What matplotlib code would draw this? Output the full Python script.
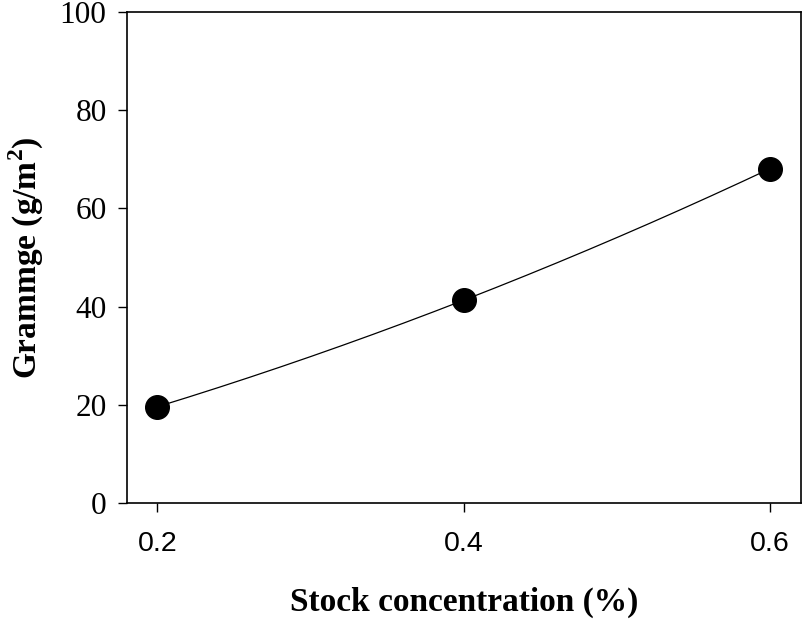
import numpy as np
import matplotlib
matplotlib.use('Agg')
import matplotlib.pyplot as plt

'''DATA'''
conc = [0.2, 0.4, 0.6]
grammage = [19.6, 41.3, 68.1]
xTicks = [0.2, 0.4, 0.6]
yTicks = [0, 20, 40, 60, 80, 100]

# fitted curve through the points
coef = np.polyfit(conc, grammage, 2)
xFit = np.linspace(conc[0], conc[-1], 200)
yFit = np.polyval(coef, xFit)

'''Plot'''
fig = plt.figure(figsize=(8.03, 6.26), dpi=100)
ax = fig.add_axes([0.1578, 0.1965, 0.9971 - 0.1578, 0.9808 - 0.1965])

ax.plot(xFit, yFit, color='black', linewidth=0.9)
ax.plot(conc, grammage, 'o', color='black', markersize=17)

ax.set_xlim(0.18, 0.62)
ax.set_ylim(0, 100)
ax.set_xticks(xTicks)
ax.set_xticklabels(['0.2', '0.4', '0.6'], fontfamily='Liberation Sans', fontsize=20.5)
ax.set_yticks(yTicks)
ax.set_yticklabels([str(v) for v in yTicks], fontfamily='Liberation Serif', fontsize=22.5)
ax.tick_params(direction='out', length=6.5, width=1)
ax.tick_params(axis='x', pad=14)
ax.tick_params(axis='y', pad=8)

for s in ax.spines.values():
    s.set_linewidth(1.2)

ax.set_xlabel('Stock concentration (%)', fontfamily='Liberation Serif',
              fontweight='bold', fontsize=24, labelpad=21)
ax.set_ylabel('Grammge (g/m$^\\mathregular{2}$)', fontfamily='Liberation Serif',
              fontweight='bold', fontsize=24, labelpad=10)

fig.savefig('out.png', dpi=100)
